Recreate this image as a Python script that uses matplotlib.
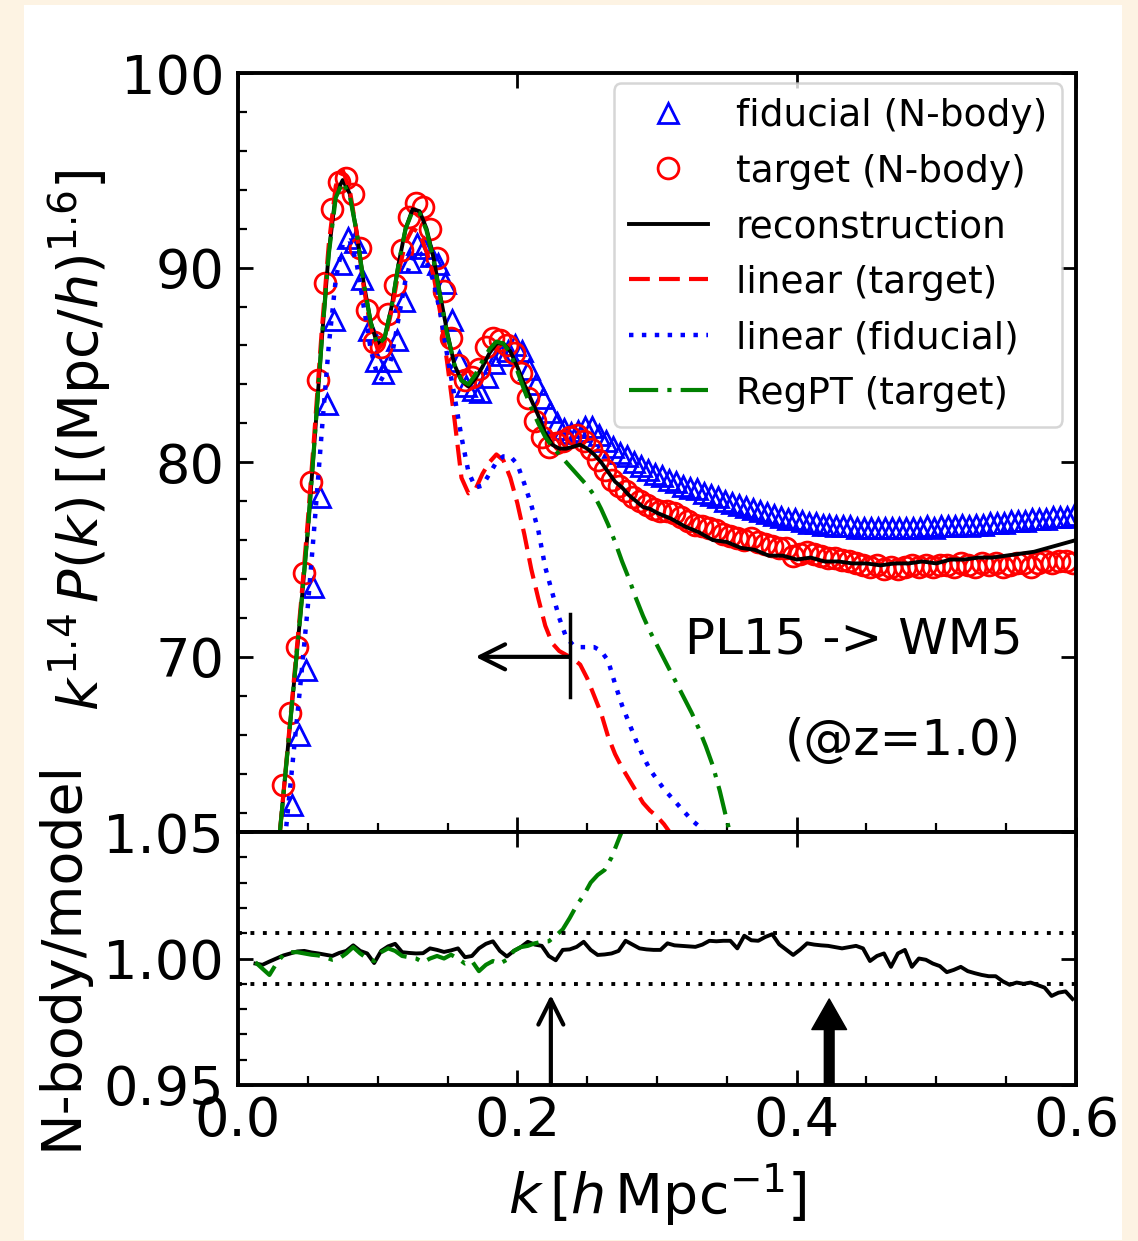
import numpy as np
import matplotlib as mpl
import matplotlib.pyplot as plt
from matplotlib.patches import Rectangle
from matplotlib.ticker import MultipleLocator, FormatStrFormatter

mpl.rcParams['font.family'] = 'DejaVu Sans'
mpl.rcParams['mathtext.fontset'] = 'dejavusans'
mpl.rcParams['axes.linewidth'] = 2.8

# ---- N-body measurements (k bins dk = 0.005) ----
p_target = [63.4, 67.1, 70.5, 74.3, 79.0, 84.2, 89.2, 93.0, 94.4, 94.6,
            93.8, 91.0, 87.8, 86.2, 85.9, 87.6, 89.1, 90.9, 92.6, 93.3,
            93.1, 92.0, 90.5, 88.8, 86.4, 85.0, 84.2, 84.4, 84.8, 85.9,
            86.4, 86.3, 86.0, 85.6, 84.6, 83.3, 82.1, 81.3, 80.8, 81.0,
            81.1, 81.3, 81.4, 81.1, 80.7, 80.1, 79.6, 79.1, 78.8, 78.5,
            78.2, 78.0, 77.8, 77.6, 77.5, 77.5, 77.4, 77.2, 77.0, 76.8,
            76.7, 76.6, 76.5, 76.3, 76.2, 76.1, 76.0, 76.1, 75.9, 75.8,
            75.7, 75.6, 75.6, 75.2, 75.3, 75.4, 75.3, 75.2, 75.1, 75.1,
            75.0, 74.9, 74.8, 74.7, 74.6, 74.7, 74.5, 74.6, 74.5, 74.6,
            74.7, 74.6, 74.7, 74.6, 74.7, 74.7, 74.6, 74.8, 74.7, 74.6,
            74.8, 74.7, 74.8, 74.6, 74.7, 74.8, 74.8, 74.6, 74.8, 74.9,
            74.8, 74.9, 74.9, 74.8]
k_target = 0.0325 + 0.005 * np.arange(len(p_target))

p_fiducial = [62.4, 66.0, 69.3, 73.6, 78.2, 83.0, 87.3, 90.2, 91.5, 91.3,
              89.4, 86.8, 85.2, 84.6, 85.2, 86.3, 88.3, 90.3, 91.2, 91.0,
              90.6, 90.2, 89.2, 87.3, 85.2, 83.9, 83.7, 83.6, 84.4, 85.1,
              85.5, 85.7, 86.0, 85.7, 84.8, 84.0, 83.3, 82.6, 82.0, 81.7,
              81.5, 81.6, 81.8, 81.8, 81.4, 81.1, 80.8, 80.5, 80.3, 80.0,
              79.8, 79.6, 79.4, 79.3, 79.1, 79.0, 78.8, 78.7, 78.6, 78.4,
              78.3, 78.2, 78.0, 77.9, 77.8, 77.7, 77.6, 77.5, 77.4, 77.3,
              77.2, 77.1, 77.1, 77.0, 76.9, 76.9, 76.8, 76.8, 76.7, 76.7,
              76.7, 76.6, 76.6, 76.6, 76.6, 76.6, 76.6, 76.6, 76.6, 76.6,
              76.6, 76.7, 76.6, 76.7, 76.7, 76.7, 76.8, 76.7, 76.8, 76.8,
              76.9, 76.9, 76.9, 77.0, 77.0, 77.0, 77.1, 77.1, 77.1, 77.2,
              77.2, 77.2, 77.3]
k_fiducial = 0.0385 + 0.005 * np.arange(len(p_fiducial))

# ---- model curves ----
p_recon = [61.0, 64.8, 68.6, 72.4, 76.5, 81.3, 86.3, 90.8, 93.8, 94.5,
           93.8, 91.8, 89.2, 87.2, 86.0, 86.4, 88.0, 90.2, 92.0, 93.0,
           92.9, 92.0, 90.5, 88.5, 86.6, 85.0, 84.2, 83.9, 84.3, 84.9,
           85.6, 86.1, 86.1, 85.7, 84.9, 84.0, 83.2, 82.4, 81.5, 80.9,
           80.7, 80.7, 80.8, 80.9, 80.7, 80.4, 80.0, 79.5, 79.0, 78.7,
           78.3, 78.0, 77.7, 77.6, 77.4,
           77.1, 76.7, 76.4, 76.0, 75.9, 75.6, 75.5, 75.2, 75.2, 75.0,
           75.1, 74.9, 74.9, 74.8, 74.8, 74.7, 74.8, 74.8, 74.9, 74.8,
           75.0, 75.0, 75.1, 75.1, 75.2, 75.3, 75.4, 75.6, 75.8, 76.0]
k_recon = np.concatenate([0.030 + 0.005 * np.arange(55),
                          0.31 + 0.01 * np.arange(30)])

p_lin_target = [61.0, 64.9, 68.8, 72.7, 77.0, 81.8, 86.8, 91.2, 94.2, 95.0,
                94.0, 91.8, 89.0, 86.9, 85.8, 86.2, 87.8, 89.8, 91.3, 92.0,
                91.8, 90.8, 89.6, 87.6, 85.0, 82.2, 79.2, 78.4, 78.6, 79.4,
                80.0, 80.4, 80.1, 79.2, 77.9, 76.3, 74.5, 73.0, 71.6, 70.7,
                70.3, 70.1, 69.9, 69.6, 68.9, 68.0, 67.1, 65.9, 65.0, 64.3,
                63.7, 63.1, 62.5, 62.1, 61.8, 61.4, 60.9]
k_lin_target = 0.030 + 0.005 * np.arange(len(p_lin_target))

p_lin_fiducial = [58.0, 61.6, 65.2, 68.8, 72.6, 77.0, 81.6, 86.0, 89.4, 91.2,
                  91.4, 90.2, 88.0, 85.8, 84.4, 84.2, 85.4, 87.4, 89.4, 90.6,
                  90.8, 90.3, 89.3, 87.6, 85.4, 83.4, 81.3, 79.5, 78.7, 78.8,
                  79.4, 80.0, 80.3, 80.3, 79.9, 78.9, 77.8, 76.5, 74.6, 73.3,
                  72.0, 71.0, 70.6, 70.5, 70.5, 70.5, 70.3, 69.8, 68.6, 67.5,
                  66.6, 65.7, 64.9, 64.2, 63.7, 63.2, 62.8, 62.4, 62.0, 61.6,
                  61.3, 60.9]
k_lin_fiducial = 0.030 + 0.005 * np.arange(len(p_lin_fiducial))

p_regpt = [61.0, 64.8, 68.6, 72.4, 76.5, 81.3, 86.3, 90.7, 93.6, 94.4,
           93.7, 91.8, 89.2, 87.2, 86.0, 86.4, 88.0, 90.2, 92.0, 92.9,
           92.8, 91.9, 90.4, 88.4, 86.5, 85.0, 84.2, 84.0, 84.5, 85.2,
           85.8, 86.2, 86.1, 85.6, 84.7, 83.7, 82.8, 82.0, 81.3, 80.8,
           80.4, 80.0, 79.6, 79.2, 78.8, 78.3, 77.6, 76.8, 75.9, 74.9,
           74.0, 73.0, 72.1, 71.3, 70.6, 69.9, 69.2, 68.5, 67.8, 67.1,
           66.3, 65.4, 64.4, 63.1, 61.6, 60.2]
k_regpt = 0.030 + 0.005 * np.arange(len(p_regpt))

# ---- ratios N-body / model ----
r_recon = [0.9980, 0.9975, 0.9988, 1.0000, 1.0012, 1.0020, 1.0028, 1.0030, 1.0024, 1.0020,
           1.0015, 1.0010, 1.0022, 1.0030, 1.0052, 1.0030, 1.0020, 0.9982, 1.0030, 1.0048,
           1.0058, 1.0025, 1.0022, 1.0020, 1.0021, 1.0040, 1.0034, 1.0026, 1.0032, 1.0040,
           1.0005, 1.0010, 1.0040, 1.0058, 1.0068, 1.0030, 1.0008, 1.0030, 1.0045, 1.0066,
           1.0055, 1.0050, 1.0010, 0.9993, 1.0034, 1.0036, 1.0046, 1.0066, 1.0034, 1.0014,
           1.0016, 1.0020, 1.0030, 1.0070, 1.0055, 1.0040, 1.0036, 1.0034, 1.0034, 1.0060,
           1.0052, 1.0050, 1.0048, 1.0046, 1.0055, 1.0070, 1.0068, 1.0070, 1.0070, 1.0040,
           1.0090, 1.0072, 1.0070, 1.0085, 1.0096, 1.0056, 1.0035, 1.0014, 1.0035, 1.0060,
           1.0055, 1.0052, 1.0050, 1.0045, 1.0040, 1.0045, 1.0050, 1.0040, 0.9990, 1.0010,
           1.0020, 0.9967, 1.0020, 1.0034, 0.9967, 1.0000, 0.9995, 0.9980, 0.9970, 0.9946,
           0.9955, 0.9967, 0.9950, 0.9942, 0.9935, 0.9930, 0.9930, 0.9910, 0.9896, 0.9905,
           0.9900, 0.9905, 0.9895, 0.9885, 0.9852, 0.9865, 0.9870, 0.9840]
k_r_recon = 0.0125 + 0.005 * np.arange(len(r_recon))

r_regpt = [0.9985, 0.9960, 0.9935, 0.9980, 1.0015, 1.0025, 1.0025, 1.0020, 1.0015, 1.0012,
           1.0005, 0.9995, 1.0000, 1.0020, 1.0045, 1.0020, 1.0000, 0.9990, 1.0025, 1.0040,
           1.0030, 1.0010, 1.0005, 1.0000, 0.9985, 1.0000, 1.0010, 1.0000, 1.0015, 1.0000,
           0.9980, 0.9990, 0.9950, 0.9975, 0.9990, 0.9980, 0.9995, 1.0030, 1.0045, 1.0050,
           1.0060, 1.0066, 1.0068, 1.0090, 1.0115, 1.0160, 1.0210, 1.0250, 1.0300, 1.0330,
           1.0350, 1.0400, 1.0470, 1.0540]
k_r_regpt = 0.0125 + 0.005 * np.arange(len(r_regpt))

W, H = 1138, 1241
fig = plt.figure(figsize=(W / 100, H / 100), dpi=100, facecolor='#fdf3e3')
fig.add_artist(Rectangle((24 / W, 1 - 1240 / H), (1122 - 24) / W, (1240 - 5) / H,
                         transform=fig.transFigure, facecolor='white',
                         edgecolor='none', zorder=-10))

x0, x1 = 238 / W, 1076 / W
ax = fig.add_axes([x0, 1 - 832 / H, x1 - x0, 759 / H])
ax2 = fig.add_axes([x0, 1 - 1085 / H, x1 - x0, 253 / H])

# top panel
ax.plot(k_fiducial, p_fiducial, '^', mfc='none', mec='blue', ms=15, mew=2,
        label='fiducial (N-body)')
ax.plot(k_target, p_target, 'o', mfc='none', mec='red', ms=15, mew=2,
        label='target (N-body)')
ax.plot(k_recon, p_recon, '-', color='k', lw=2.8, label='reconstruction')
ax.plot(k_lin_target, p_lin_target, color='red', lw=3,
        ls=(0, (5, 2.2)), label='linear (target)')
ax.plot(k_lin_fiducial, p_lin_fiducial, color='blue', lw=3.2,
        ls=(0, (1, 1.9)), label='linear (fiducial)')
ax.plot(k_regpt, p_regpt, color='green', lw=3,
        ls=(0, (7, 2.2, 1, 2.2)), label='RegPT (target)')

ax.annotate('', xy=(0.170, 70.0), xytext=(0.2375, 70.0),
            arrowprops=dict(arrowstyle='->', lw=3, color='k',
                            mutation_scale=45, shrinkA=0, shrinkB=0))
ax.plot([0.2375, 0.2375], [67.95, 72.2], 'k-', lw=2.5)
ax.text(0.320, 70.9, 'PL15 -> WM5', fontsize=36, va='center', ha='left')
ax.text(0.3917, 65.7, '(@z=1.0)', fontsize=36, va='center', ha='left')

ax.set_xlim(0, 0.6)
ax.set_ylim(61, 100)
ax.yaxis.set_major_locator(MultipleLocator(10))
ax.yaxis.set_minor_locator(MultipleLocator(2))
ax.xaxis.set_major_locator(MultipleLocator(0.2))
ax.xaxis.set_minor_locator(MultipleLocator(0.05))
ax.tick_params(labelbottom=False)

leg = ax.legend(loc='upper right', bbox_to_anchor=(0.9833, 0.9868),
                borderaxespad=0, fontsize=27, numpoints=1, handlelength=2.1,
                handletextpad=0.75, labelspacing=0.52, borderpad=0.4)
leg.get_frame().set_linewidth(1.8)

# bottom panel
ax2.plot(k_r_recon, r_recon, '-', color='k', lw=2.8)
ax2.plot(k_r_regpt, r_regpt, color='green', lw=3, ls=(0, (7, 2.2, 1, 2.2)))
ax2.axhline(1.01, color='k', lw=2.8, ls=(0, (1, 2.2)))
ax2.axhline(0.99, color='k', lw=2.8, ls=(0, (1, 2.2)))
ax2.annotate('', xy=(0.224, 0.9856), xytext=(0.224, 0.95),
             arrowprops=dict(arrowstyle='->', lw=3, color='k',
                             mutation_scale=45, shrinkA=0, shrinkB=0))
ax2.annotate('', xy=(0.4233, 0.984), xytext=(0.4233, 0.95),
             arrowprops=dict(width=7, headwidth=25, headlength=22,
                             facecolor='k', edgecolor='k', shrink=0))
ax2.set_xlim(0, 0.6)
ax2.set_ylim(0.95, 1.05)
ax2.yaxis.set_major_locator(MultipleLocator(0.05))
ax2.yaxis.set_minor_locator(MultipleLocator(0.01))
ax2.yaxis.set_major_formatter(FormatStrFormatter('%.2f'))
ax2.xaxis.set_major_locator(MultipleLocator(0.2))
ax2.xaxis.set_minor_locator(MultipleLocator(0.05))
ax2.xaxis.set_major_formatter(FormatStrFormatter('%.1f'))

for a in (ax, ax2):
    a.tick_params(which='major', direction='in', top=True, right=True,
                  length=11, width=2, labelsize=39, pad=10)
    a.tick_params(which='minor', direction='in', top=False, right=False,
                  length=6.5, width=1.6)
ax2.tick_params(axis='x', which='major', pad=7)

fig.text(80 / W, 1 - 440 / H, r'$k^{1.4}\,P(k)\,[(\mathrm{Mpc}/h)^{1.6}]$',
         rotation=90, ha='center', va='center', fontsize=40)
fig.text(62 / W, 1 - 955 / H, 'N-body/model', rotation=90,
         ha='center', va='center', fontsize=40)
fig.text(657 / W, 1 - 1195 / H, r'$k\,[h\,\mathrm{Mpc}^{-1}]$',
         ha='center', va='center', fontsize=40)

fig.savefig('out.png', dpi=100, facecolor=fig.get_facecolor())
